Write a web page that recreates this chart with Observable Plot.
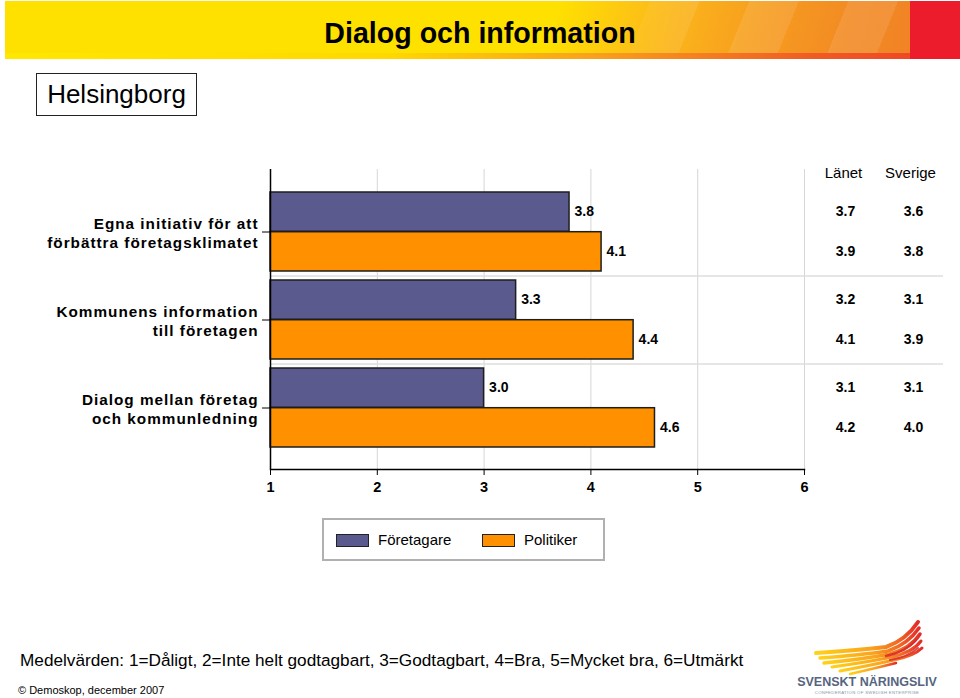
<!DOCTYPE html>
<html>
<head>
<meta charset="utf-8">
<script src="https://cdn.jsdelivr.net/npm/d3@7"></script>
<script src="https://cdn.jsdelivr.net/npm/@observablehq/plot@0.6"></script>
<style>
  body { margin: 0; background: #fff; font-family: "Liberation Sans", Arial, sans-serif; }
  #page { position: relative; width: 960px; height: 698px; overflow: hidden; background: #fff; }
  #banner { position: absolute; left: 5px; top: 1px; width: 955px; height: 58px;
    background: linear-gradient(105deg, #FFE100 0%, #FFE100 57%, #FDC414 65%, #FAAE1C 72%, #F69A20 80%, #F28A24 88%, #F07E26 100%); }
  #banner .stripes { position: absolute; left: 0; top: 0; width: 100%; height: 100%;
    background: repeating-linear-gradient(112deg, rgba(255,255,255,0) 0 46px, rgba(255,255,255,0.10) 46px 92px);
    -webkit-mask-image: linear-gradient(90deg, transparent 0%, transparent 62%, #000 72%);
    mask-image: linear-gradient(90deg, transparent 0%, transparent 62%, #000 72%); }
  #banner .strip { position: absolute; left: 0; bottom: 0; width: 100%; height: 6px;
    background: linear-gradient(90deg, #FFE800 0%, #FFD800 40%, #F8A01C 62%, #F05A24 85%, #EE4025 100%); }
  #banner .red { position: absolute; right: 0; top: 0; width: 50px; height: 58px; background: #ED1C2D; }
  #title { position: absolute; left: 0; top: 14px; width: 960px; text-align: center;
    font-size: 28.6px; font-weight: bold; color: #000; line-height: 38px; }
  #place { position: absolute; left: 36px; top: 73px; width: 159px; height: 41px; border: 1.5px solid #222;
    font-size: 26px; line-height: 41px; text-align: center; color: #000; }
  #chart { position: absolute; left: 0; top: 0; }
  #legend { position: absolute; left: 322px; top: 518px; width: 279px; height: 39px; border: 2px solid #b0b0b0;
    font-size: 15px; color: #000; }
  #legend .item { position: absolute; top: 0; height: 39px; line-height: 39px; white-space: nowrap; }
  #legend .sw { display: inline-block; width: 31px; height: 11px; border: 1.5px solid #222; vertical-align: middle;
    margin-right: 9px; position: relative; top: -1px; }
  #note { position: absolute; left: 20px; top: 650px; font-size: 17.2px; line-height: 20px; color: #000; white-space: nowrap; }
  #copy { position: absolute; left: 18px; top: 683px; font-size: 11px; line-height: 14px; color: #000; white-space: nowrap; }
  #logo { position: absolute; left: 790px; top: 610px; }
  #chart svg g[aria-label="y-axis tick label"] text { letter-spacing: 1px; }
</style>
</head>
<body>
<div id="page">
  <div id="banner"><div class="stripes"></div><div class="strip"></div><div class="red"></div></div>
  <div id="title">Dialog och information</div>
  <div id="place">Helsingborg</div>
  <div id="chart"></div>
  <div id="legend"></div>
  <div id="note"></div>
  <div id="copy"></div>
  <svg id="logo" width="170" height="88" viewBox="0 0 170 88">
    <defs>
      <linearGradient id="wg" x1="0" y1="0" x2="1" y2="0">
        <stop offset="0" stop-color="#FFD21A"/>
        <stop offset="0.55" stop-color="#F9A21E"/>
        <stop offset="0.8" stop-color="#F06A24"/>
        <stop offset="1" stop-color="#E42A2A"/>
      </linearGradient>
    </defs>
    <g fill="none" stroke="url(#wg)" stroke-linecap="round">
      <path d="M26 43 Q70 40 96 37 Q116 30 128 12" stroke-width="4"/>
      <path d="M30 48 Q72 45 98 41 Q118 34 129 18" stroke-width="3.5"/>
      <path d="M34 53 Q74 49 100 44 Q121 38 130 24" stroke-width="3.5"/>
      <path d="M42 57 Q78 52 102 47 Q123 42 131 31" stroke-width="3"/>
      <path d="M50 61 Q82 55 104 50 Q124 46 132 38" stroke-width="3"/>
      <path d="M60 64 Q86 58 106 53" stroke-width="2.5"/>
    </g>
    <g fill="none" stroke="#D92A2A" stroke-linecap="round" opacity="0.85">
      <path d="M96 46 Q116 42 126 30" stroke-width="2.5"/>
      <path d="M100 50 Q118 47 128 38" stroke-width="2"/>
    </g>
    <text x="77" y="76" text-anchor="middle" font-family="Liberation Sans, Arial, sans-serif" font-weight="bold" font-size="12.5" fill="#56657F">SVENSKT NÄRINGSLIV</text>
    <text x="77" y="83.5" text-anchor="middle" font-family="Liberation Sans, Arial, sans-serif" font-size="4.3" fill="#8a93a5" letter-spacing="0.3">CONFEDERATION OF SWEDISH ENTERPRISE</text>
  </svg>
</div>
<script>
// ---- data ----
const categories = [
  "Egna initiativ för att\nförbättra företagsklimatet",
  "Kommunens information\ntill företagen",
  "Dialog mellan företag\noch kommunledning"
];
const series = ["Företagare", "Politiker"];
const seriesColors = ["#5B5A8E", "#FF9000"];
const foretagare = [3.8, 3.3, 3.0];
const politiker = [4.1, 4.4, 4.6];
const columnHeads = ["Länet", "Sverige"];
const lanetForetagare = [3.7, 3.2, 3.1];
const lanetPolitiker = [3.9, 4.1, 4.2];
const sverigeForetagare = [3.6, 3.1, 3.1];
const sverigePolitiker = [3.8, 3.9, 4.0];
const xTicks = [1, 2, 3, 4, 5, 6];
const noteText = "Medelvärden: 1=Dåligt, 2=Inte helt godtagbart, 3=Godtagbart, 4=Bra, 5=Mycket bra, 6=Utmärkt";
const copyText = "© Demoskop, december 2007";

// ---- table built from the arrays ----
const rows = categories.map((c, i) => ({
  cat: c, f: foretagare[i], p: politiker[i],
  lf: lanetForetagare[i], lp: lanetPolitiker[i],
  sf: sverigeForetagare[i], sp: sverigePolitiker[i]
}));

const fmt = (v) => v.toFixed(1);
const half = 39.7;
const barStroke = "#1e1e1e";
const valSize = 14;

const chart = Plot.plot({
  width: 960,
  height: 500,
  marginLeft: 270,
  marginRight: 156,
  marginTop: 169,
  marginBottom: 31,
  style: { fontFamily: "Liberation Sans, Arial, sans-serif", background: "transparent", overflow: "visible", color: "#000" },
  x: { domain: [1, 6] },
  y: { domain: categories, type: "band", paddingInner: 0.1, paddingOuter: 0, insetTop: 23, insetBottom: 21 },
  marks: [
    Plot.gridX(xTicks.slice(1), { stroke: "#d6d6d6", strokeOpacity: 1, strokeWidth: 1 }),
    Plot.ruleY(categories.slice(1), { dy: -44.1, stroke: "#dedede", strokeWidth: 1.5, insetRight: -139 }),
    Plot.barX(rows, { x1: 1, x2: "f", y: "cat", fill: seriesColors[0], stroke: barStroke, strokeWidth: 1.5, insetBottom: half }),
    Plot.barX(rows, { x1: 1, x2: "p", y: "cat", fill: seriesColors[1], stroke: barStroke, strokeWidth: 1.5, insetTop: half }),
    Plot.ruleX([1], { stroke: "#000", strokeWidth: 1.5 }),
    Plot.frame({ anchor: "bottom", stroke: "#000", strokeWidth: 1.5 }),
    Plot.axisX({ ticks: xTicks, tickSize: 6, tickPadding: 6, fontSize: 14.5, fontWeight: "bold", label: null, tickFormat: (d) => String(d) }),
    Plot.axisY({ tickSize: 8, tickPadding: 4, fontSize: 15.3, fontWeight: "bold", label: null, lineHeight: 1.25 }),
    Plot.text(rows, { x: "f", y: "cat", text: (d) => fmt(d.f), dx: 5, dy: -20, textAnchor: "start", fontSize: valSize, fontWeight: "bold" }),
    Plot.text(rows, { x: "p", y: "cat", text: (d) => fmt(d.p), dx: 5, dy: 20, textAnchor: "start", fontSize: valSize, fontWeight: "bold" }),
    Plot.text([columnHeads[0]], { frameAnchor: "top-right", text: (d) => d, textAnchor: "middle", dx: 39, dy: -2, fontSize: 15 }),
    Plot.text([columnHeads[1]], { frameAnchor: "top-right", text: (d) => d, textAnchor: "middle", dx: 106, dy: -2, fontSize: 15 }),
    Plot.text(rows, { y: "cat", frameAnchor: "right", text: (d) => fmt(d.lf), textAnchor: "middle", dx: 41, dy: -20, fontSize: valSize, fontWeight: "bold" }),
    Plot.text(rows, { y: "cat", frameAnchor: "right", text: (d) => fmt(d.lp), textAnchor: "middle", dx: 41, dy: 20, fontSize: valSize, fontWeight: "bold" }),
    Plot.text(rows, { y: "cat", frameAnchor: "right", text: (d) => fmt(d.sf), textAnchor: "middle", dx: 109, dy: -20, fontSize: valSize, fontWeight: "bold" }),
    Plot.text(rows, { y: "cat", frameAnchor: "right", text: (d) => fmt(d.sp), textAnchor: "middle", dx: 109, dy: 20, fontSize: valSize, fontWeight: "bold" })
  ]
});
document.getElementById("chart").appendChild(chart);

// legend
const legend = document.getElementById("legend");
const legendLeft = [12, 158];
series.forEach((s, i) => {
  const it = document.createElement("div");
  it.className = "item";
  it.style.left = legendLeft[i] + "px";
  const sw = document.createElement("span");
  sw.className = "sw";
  sw.style.background = seriesColors[i];
  it.appendChild(sw);
  it.appendChild(document.createTextNode(s));
  legend.appendChild(it);
});
document.getElementById("note").textContent = noteText;
document.getElementById("copy").textContent = copyText;
</script>
</body>
</html>
